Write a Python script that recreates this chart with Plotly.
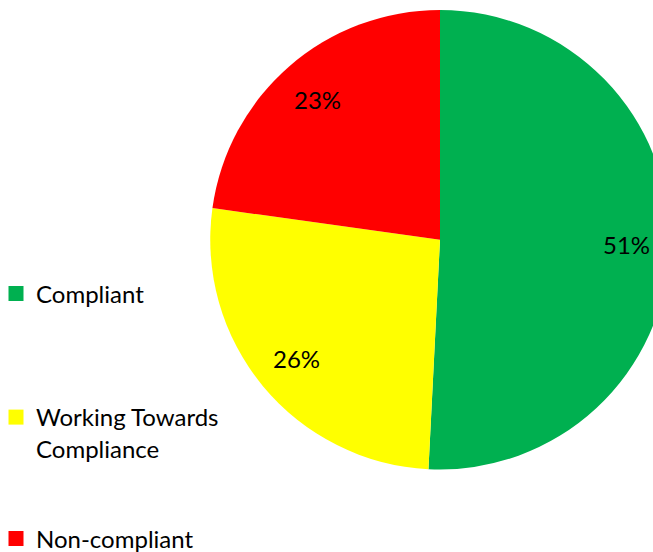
import math
import plotly.graph_objects as go

categories = ["Compliant", "Working Towards Compliance", "Non-compliant"]
legend_labels = ["Compliant", "Working Towards<br>Compliance", "Non-compliant"]
values = [50.8, 26.4, 22.8]
colors = ["#00B050", "#FFFF00", "#FF0000"]
text_labels = ["51%", "26%", "23%"]

W, H = 700, 552
FONT = "Lato, Calibri, Carlito, sans-serif"
FS = 24

# pie domain in pixels
px0, px1 = 210, 670
py0, py1 = 10, 469.5
dom_x = [px0 / W, px1 / W]
dom_y = [1 - py1 / H, 1 - py0 / H]

fig = go.Figure()
fig.add_trace(go.Pie(
    labels=categories, values=values, sort=False, direction="clockwise",
    rotation=0, marker=dict(colors=colors, line=dict(width=0)),
    textinfo="none", hoverinfo="skip", showlegend=False,
    domain=dict(x=dom_x, y=dom_y),
))

# percentage labels placed at slice mid-angles
cx, cy = (px0 + px1) / 2, (py0 + py1) / 2
R = (px1 - px0) / 2
total = sum(values)
cum = 0
for v, t in zip(values, text_labels):
    mid = cum + v / 2
    cum += v
    ang = math.radians(90 - 360 * mid / total)
    x = cx + 0.81 * R * math.cos(ang)
    y = cy - 0.81 * R * math.sin(ang)
    fig.add_annotation(x=x / W, y=1 - y / H, xref="paper", yref="paper",
                       xanchor="center", yanchor="middle",
                       text=t, showarrow=False,
                       font=dict(family=FONT, size=FS, color="#000000"))

# legend entries (one legend each, to reproduce the spacing)
legend_y_px = [294, 412, 539]
legend_names = ["legend", "legend2", "legend3"]
for lab, col, ln in zip(legend_labels, colors, legend_names):
    fig.add_trace(go.Scatter(
        x=[None], y=[None], mode="markers", name=lab,
        marker=dict(symbol="square", size=15, color=col),
        legend=ln, showlegend=True, hoverinfo="skip",
    ))

layout_legends = {}
for ln, ypx in zip(legend_names, legend_y_px):
    layout_legends[ln] = dict(
        x=-4 / W, xanchor="left", y=1 - ypx / H, yanchor="middle",
        valign="top", bgcolor="rgba(0,0,0,0)", borderwidth=0,
        font=dict(family=FONT, size=FS, color="#000000"),
        itemclick=False, itemdoubleclick=False, tracegroupgap=0,
    )
# for the two-line item, anchor at its first line
layout_legends["legend2"]["yanchor"] = "top"
layout_legends["legend2"]["y"] = 1 - (legend_y_px[1] - 17) / H

fig.update_layout(
    width=W, height=H, margin=dict(l=0, r=0, t=0, b=0, autoexpand=False),
    paper_bgcolor="white", plot_bgcolor="white",
    xaxis=dict(visible=False), yaxis=dict(visible=False),
    **layout_legends,
)

fig.write_html("out.html", include_plotlyjs=True,
               config={"displayModeBar": False, "staticPlot": True},
               post_script="document.body.style.overflow='hidden';document.documentElement.style.overflow='hidden';")
